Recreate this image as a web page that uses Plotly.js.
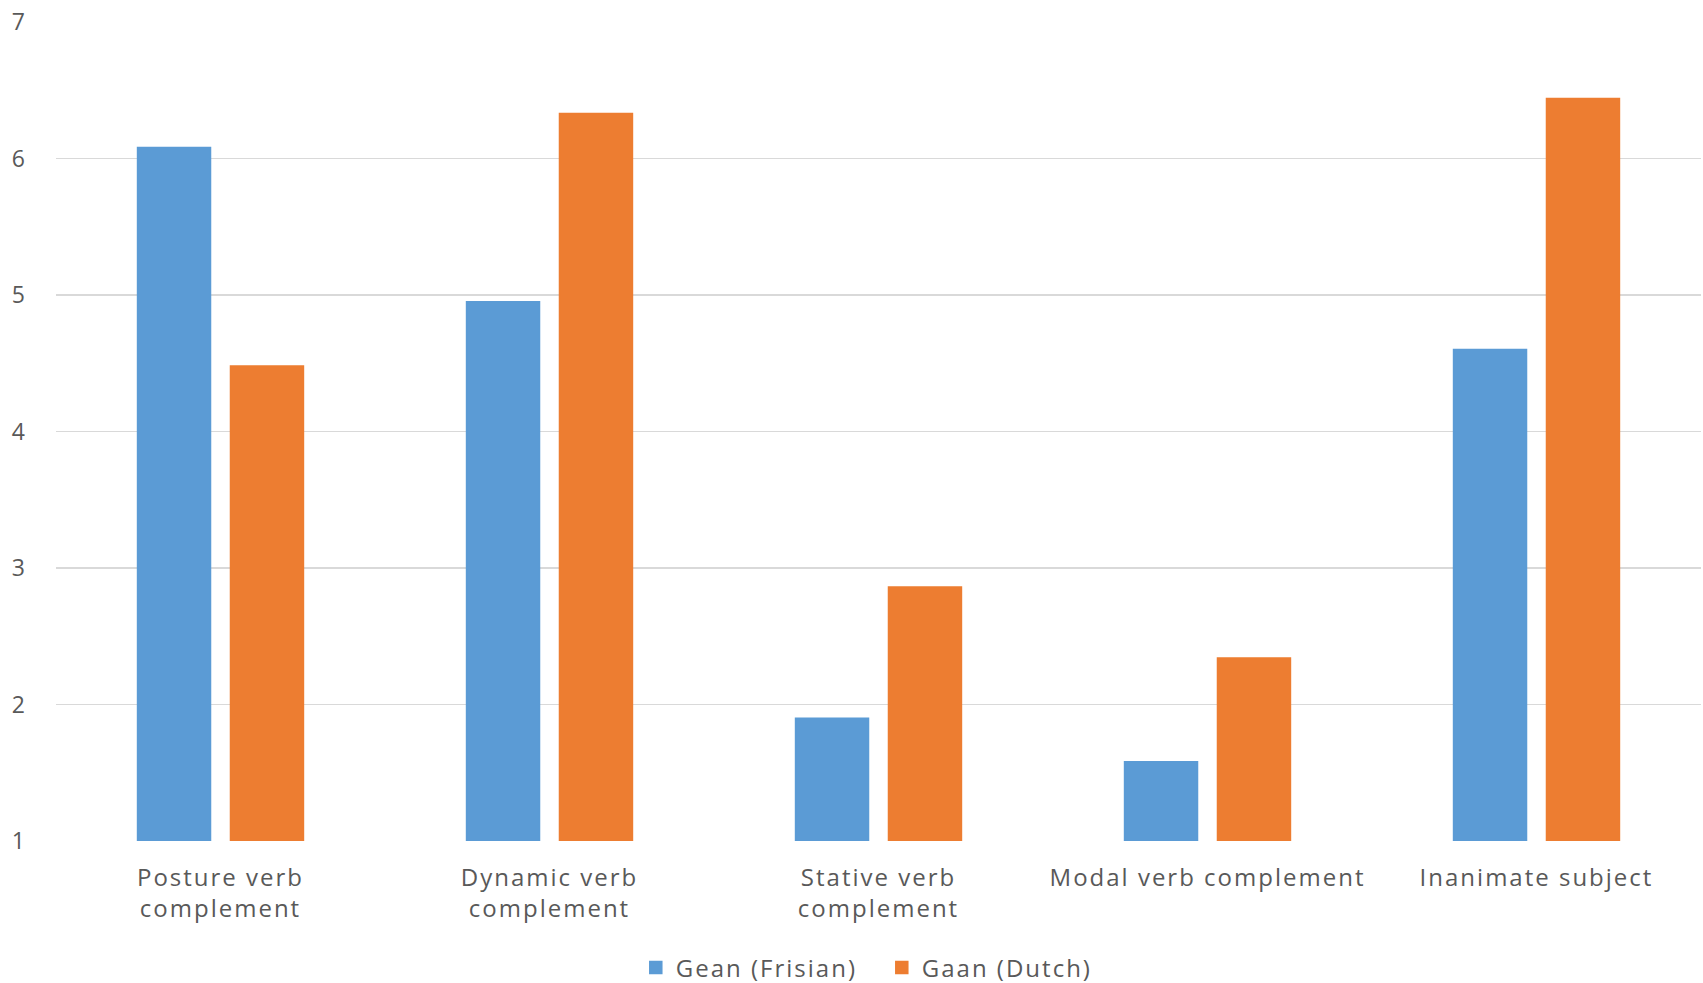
<!DOCTYPE html>
<html>
<head>
<meta charset="utf-8">
<script src="https://cdn.plot.ly/plotly-3.0.1.min.js"></script>
<style>html,body{margin:0;padding:0;background:#fff;}#chart{width:1703px;height:983px;}
svg text{letter-spacing:2px;}</style>
</head>
<body>
<div id="chart"></div>
<script>
const categories = ["Posture verb<br>complement", "Dynamic verb<br>complement", "Stative verb<br>complement", "Modal verb complement", "Inanimate subject"];
const geanFrisian = [6.08, 4.95, 1.90, 1.58, 4.60];
const gaanDutch = [4.48, 6.33, 2.86, 2.34, 6.44];
const yTicks = [1, 2, 3, 4, 5, 6, 7];

const fontFamily = "'Open Sans', sans-serif";
const textColor = "#595959";

const data = [
  {type: "bar", name: "Gean (Frisian)", x: categories, y: geanFrisian,
   marker: {color: "#5b9bd5", line: {color: "#5b9bd5", width: 1.5}}},
  {type: "bar", name: "Gaan (Dutch)", x: categories, y: gaanDutch,
   marker: {color: "#ed7d31", line: {color: "#ed7d31", width: 1.5}}}
];

const layout = {
  width: 1703, height: 983,
  margin: {l: 56, r: 2, t: 22, b: 142},
  paper_bgcolor: "#ffffff", plot_bgcolor: "#ffffff",
  barmode: "group", bargap: 0.435, bargroupgap: 0.215,
  font: {family: fontFamily, color: textColor, size: 23},
  showlegend: true,
  legend: {orientation: "h", x: 0.502, xanchor: "center", yref: "container", y: 0.0153, yanchor: "middle",
           font: {size: 24, color: textColor}, itemwidth: 30, entrywidth: 201, traceorder: "normal"},
  xaxis: {type: "category", showgrid: false, zeroline: false, showline: false, automargin: false,
          ticks: "", ticklabelstandoff: 20, tickfont: {size: 24, color: textColor}},
  yaxis: {range: [1, 7], tickvals: yTicks, ticktext: yTicks.map(String), automargin: false,
          showgrid: true, gridcolor: "#d9d9d9", gridwidth: 1.5, zeroline: false, showline: false,
          ticks: "", ticklabelstandoff: 28, tickfont: {size: 23, color: textColor}}
};

Plotly.newPlot("chart", data, layout, {displayModeBar: false, staticPlot: true});
</script>
</body>
</html>
